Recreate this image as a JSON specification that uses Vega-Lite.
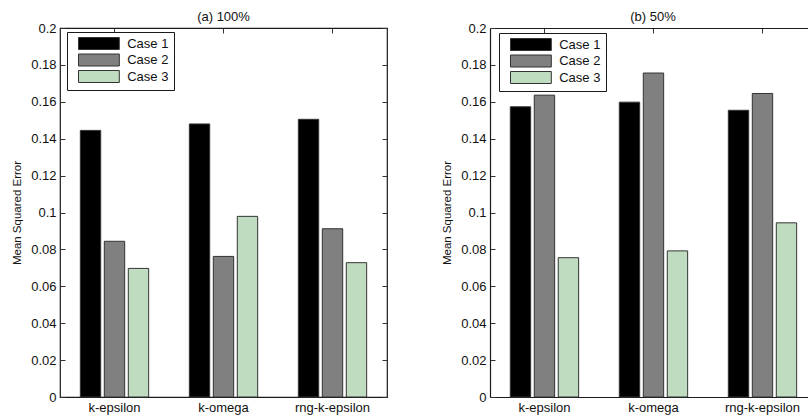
{
  "$schema": "https://vega.github.io/schema/vega-lite/v6.json",
  "background": "white",
  "padding": {"left": 11, "top": 9, "right": 0, "bottom": 0},
  "config": {
    "font": "Liberation Sans",
    "view": {"stroke": "#1a1a1a", "strokeWidth": 1.2},
    "axis": {"labelColor": "#111111", "labelFontSize": 13, "titleColor": "#111111", "titleFontSize": 11.5, "titleFontWeight": "normal", "tickColor": "#333333", "grid": false, "domain": false, "domainColor": "#1a1a1a", "domainWidth": 1.2},
    "title": {"fontSize": 13, "fontWeight": "normal", "color": "#111111", "offset": -1.5},
    "legend": {"title": null, "orient": "none", "legendX": 7, "legendY": 4, "fillColor": "white", "strokeColor": "#1a1a1a", "padding": 5, "symbolType": "M-3.4,-1H3.4V1H-3.4Z", "symbolSize": 144, "symbolOffset": 20.4, "symbolStrokeColor": "#333333", "symbolStrokeWidth": 1, "symbolOpacity": 1, "labelFontSize": 13, "labelColor": "#111111", "labelOffset": 21.8, "rowPadding": -0.5}
  },
  "datasets": {
    "a": [
      {"model": "k-epsilon", "case": "Case 1", "mse": 0.1445},
      {"model": "k-epsilon", "case": "Case 2", "mse": 0.0844},
      {"model": "k-epsilon", "case": "Case 3", "mse": 0.0697},
      {"model": "k-omega", "case": "Case 1", "mse": 0.148},
      {"model": "k-omega", "case": "Case 2", "mse": 0.0762},
      {"model": "k-omega", "case": "Case 3", "mse": 0.0979},
      {"model": "rng-k-epsilon", "case": "Case 1", "mse": 0.1505},
      {"model": "rng-k-epsilon", "case": "Case 2", "mse": 0.0912},
      {"model": "rng-k-epsilon", "case": "Case 3", "mse": 0.0728}
    ],
    "b": [
      {"model": "k-epsilon", "case": "Case 1", "mse": 0.1573},
      {"model": "k-epsilon", "case": "Case 2", "mse": 0.1636},
      {"model": "k-epsilon", "case": "Case 3", "mse": 0.0755},
      {"model": "k-omega", "case": "Case 1", "mse": 0.1598},
      {"model": "k-omega", "case": "Case 2", "mse": 0.1756},
      {"model": "k-omega", "case": "Case 3", "mse": 0.0792},
      {"model": "rng-k-epsilon", "case": "Case 1", "mse": 0.1554},
      {"model": "rng-k-epsilon", "case": "Case 2", "mse": 0.1645},
      {"model": "rng-k-epsilon", "case": "Case 3", "mse": 0.0944}
    ]
  },
  "spacing": 52,
  "resolve": {"legend": {"color": "independent"}, "scale": {"color": "independent"}},
  "hconcat": [
    {
      "width": 327,
      "height": 369,
      "title": {"text": "(a) 100%"},
      "data": {"name": "a"},
      "resolve": {"axis": {"x": "independent", "y": "independent"}},
      "layer": [
        {
          "mark": {"type": "bar", "stroke": "#333333", "strokeWidth": 1},
          "encoding": {
            "x": {"field": "model", "type": "nominal", "sort": null, "scale": {"paddingInner": 0.34, "paddingOuter": 0.17}, "axis": {"orient": "bottom", "title": null, "labelAngle": 0, "ticks": false, "labelPadding": 4}},
            "xOffset": {"field": "case", "type": "nominal", "scale": {"paddingInner": 0.15, "paddingOuter": 0.075}},
            "y": {"field": "mse", "type": "quantitative", "scale": {"domain": [0, 0.2], "nice": false}, "axis": {"orient": "left", "title": "Mean Squared Error", "values": [0, 0.02, 0.04, 0.06, 0.08, 0.1, 0.12, 0.14, 0.16, 0.18, 0.2], "format": "~g", "tickSize": -5, "labelPadding": 9, "titlePadding": 8}},
            "color": {"field": "case", "type": "nominal", "scale": {"domain": ["Case 1", "Case 2", "Case 3"], "range": ["#000000", "#808080", "#c0dcc0"]}}
          }
        },
        {
          "mark": {"type": "point", "opacity": 0},
          "encoding": {
            "x": {"field": "model", "type": "nominal", "sort": null, "axis": {"orient": "top", "title": null, "labels": false, "tickSize": -5}},
            "y": {"field": "mse", "type": "quantitative", "axis": {"orient": "right", "title": null, "labels": false, "values": [0, 0.02, 0.04, 0.06, 0.08, 0.1, 0.12, 0.14, 0.16, 0.18, 0.2], "tickSize": -5}}
          }
        }
      ]
    },
    {
      "width": 318,
      "height": 369,
      "title": {"text": "(b) 50%", "dx": 4},
      "data": {"name": "b"},
      "view": {"stroke": null},
      "resolve": {"axis": {"x": "independent", "y": "independent"}},
      "layer": [
        {
          "mark": {"type": "bar", "stroke": "#333333", "strokeWidth": 1},
          "encoding": {
            "x": {"field": "model", "type": "nominal", "sort": null, "scale": {"paddingInner": 0.34, "paddingOuter": 0.1285, "align": 0.66}, "axis": {"orient": "bottom", "title": null, "labelAngle": 0, "ticks": false, "labelPadding": 4, "domain": true}},
            "xOffset": {"field": "case", "type": "nominal", "scale": {"paddingInner": 0.15, "paddingOuter": 0.075}},
            "y": {"field": "mse", "type": "quantitative", "scale": {"domain": [0, 0.2], "nice": false}, "axis": {"orient": "left", "title": "Mean Squared Error", "values": [0, 0.02, 0.04, 0.06, 0.08, 0.1, 0.12, 0.14, 0.16, 0.18, 0.2], "format": "~g", "tickSize": -5, "labelPadding": 9, "titlePadding": 8, "domain": true}},
            "color": {"field": "case", "type": "nominal", "scale": {"domain": ["Case 1", "Case 2", "Case 3"], "range": ["#000000", "#808080", "#c0dcc0"]}, "legend": {"legendX": 9, "legendY": 5}}
          }
        },
        {
          "mark": {"type": "point", "opacity": 0},
          "encoding": {
            "x": {"field": "model", "type": "nominal", "sort": null, "axis": {"orient": "top", "title": null, "labels": false, "tickSize": -5, "domain": true}},
            "y": {"field": "mse", "type": "quantitative", "axis": null}
          }
        }
      ]
    }
  ]
}
